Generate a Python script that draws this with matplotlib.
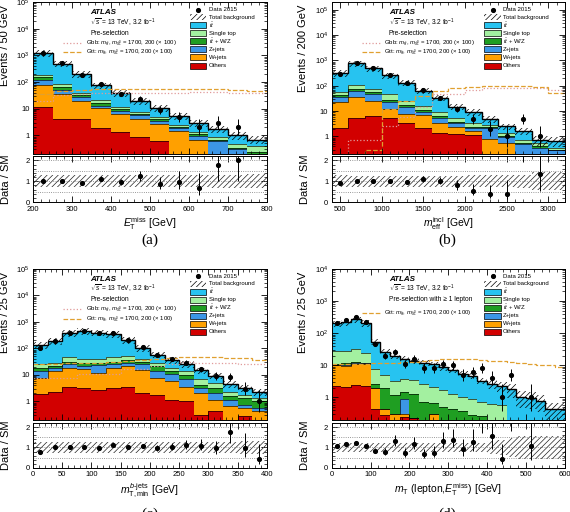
import matplotlib
matplotlib.use('Agg')
import matplotlib.pyplot as plt
import numpy as np
from matplotlib.patches import Rectangle
from matplotlib.lines import Line2D
from matplotlib.ticker import LogLocator, FuncFormatter, MultipleLocator, NullFormatter

plt.rcParams['font.family'] = ['Liberation Sans', 'DejaVu Sans']
plt.rcParams['mathtext.fontset'] = 'custom'
plt.rcParams['mathtext.rm'] = 'Liberation Sans'
plt.rcParams['mathtext.it'] = 'Liberation Sans:italic'
plt.rcParams['mathtext.bf'] = 'Liberation Sans:bold'
plt.rcParams['hatch.linewidth'] = 0.5

# process colours
C_TT = '#27c3f0'
C_ST = '#a3f0a0'
C_TTV = '#1f9e22'
C_Z = '#3c96e6'
C_W = '#ffa000'
C_OTH = '#d20000'
C_GBB = '#e09a9a'
C_GTT = '#e0a030'

# ---------------- (a) ETmiss ----------------
a_edges = [200, 250, 300, 350, 400, 450, 500, 550, 600, 650, 700, 750, 800]
a_others = [11.5, 4.2, 4.2, 1.9, 1.4, 0.87, 0.6, 0, 0, 0, 0, 0]
a_wjets = [63.5, 32.8, 15.8, 8.7, 5.1, 3.3, 2.1, 1.5, 0.65, 0, 0, 0]
a_zjets = [40, 15, 7, 2.4, 1.5, 1.5, 0.9, 0.4, 0.3, 0.6, 0.3, 0.1]
a_ttv = [35, 13, 5, 3, 1.5, 0.9, 0.5, 0.2, 0.2, 0.1, 0.05, 0.15]
a_single = [28, 22, 7, 4.6, 2.5, 1.3, 0.7, 0.3, 0.25, 0.17, 0.14, 0.16]
a_ttbar = [1082, 403, 166, 54.4, 27, 11.6, 5.8, 2.8, 1.5, 0.83, 0.51, 0.28]
a_data = [1260, 500, 185, 84, 37, 24, 9, 5, 2, 3, 2, 0]
a_unc = [0.28, 0.28, 0.28, 0.28, 0.28, 0.28, 0.28, 0.28, 0.28, 0.30, 0.32, 0.33]
a_gbb = [19, 34, 36, 38, 39, 40, 40, 40, 41, 41, 40, 38]
a_gtt = [36, 48, 52, 54, 56, 56, 56, 55, 54, 53, 52, 46]

# ---------------- (b) meff ----------------
b_edges = [400, 600, 800, 1000, 1200, 1400, 1600, 1800, 2000, 2200, 2400, 2600, 2800, 3000, 3200]
b_others = [2.1, 5.5, 6.5, 5.3, 3.5, 2.2, 1.4, 1.3, 1.1, 0, 0, 0, 0, 0]
b_wjets = [19.9, 29.5, 19.5, 6.7, 4.4, 4.6, 1.9, 1.0, 0.6, 0.8, 0.56, 0, 0, 0]
b_zjets = [14, 28, 21, 10, 6.1, 2.5, 1.8, 1.0, 0.4, 1.4, 0.37, 0.5, 0.35, 0.28]
b_ttv = [7, 10, 7, 5, 2.6, 1.3, 1.2, 0.5, 0.3, 0.1, 0.07, 0.06, 0.05, 0.02]
b_single = [11, 30, 19, 20, 9.4, 5.9, 2.8, 1.3, 0.9, 0.5, 0.35, 0.19, 0.15, 0.06]
b_ttbar = [262, 667, 417, 210, 104, 45.5, 23.9, 9.9, 5.7, 2.0, 1.15, 0.9, 0.19, 0.28]
b_data = [290, 785, 490, 257, 126, 69, 34, 12, 5, 2, 1, 5, 1, 0]
b_unc = [0.28, 0.27, 0.27, 0.27, 0.27, 0.27, 0.27, 0.27, 0.28, 0.28, 0.28, 0.30, 0.43, 0.43]
b_gbb = [0.1, 0.74, 0.74, 2.5, 6, 15, 47, 47, 66, 78, 82, 82, 80, 66]
b_gtt = [0.05, 0.1, 0.3, 12, 26, 40, 62, 80, 92, 95, 95, 95, 90, 50]

# ---------------- (c) mT,min b-jets ----------------
c_edges = [0, 25, 50, 75, 100, 125, 150, 175, 200, 225, 250, 275, 300, 325, 350, 375, 400]
c_others = [1.9, 2.2, 3.5, 3.2, 2.6, 3.2, 3.5, 2.1, 1.8, 1.15, 1.0, 0.31, 0.42, 0, 0.29, 0]
c_wjets = [5.9, 11.6, 15.1, 12.8, 9.4, 15.4, 17.5, 12.9, 6.0, 4.65, 2.5, 1.69, 0.73, 0.65, 0.26, 0.42]
c_zjets = [6.0, 3.7, 6.4, 5.0, 11, 6.4, 8, 10, 6.0, 4.6, 3.6, 1.2, 0.95, 0.5, 0.2, 0.13]
c_ttv = [4.8, 3.5, 5, 8, 5, 5, 7, 5, 7.2, 3.4, 2.4, 1.1, 1.1, 0.5, 0.55, 0.45]
c_single = [6.4, 8, 15, 10, 12, 15, 15, 10, 8, 4.8, 4.3, 2.4, 1.8, 0.55, 0.5, 0.3]
c_ttbar = [105, 156, 335, 406, 350, 310, 149, 63, 29, 18.4, 12.2, 7.9, 4.4, 2.4, 1.3, 0.9]
c_data = [104, 189, 380, 454, 382, 390, 204, 111, 56, 38, 29, 16, 9, 8, 3, 1]
c_unc = [0.28, 0.28, 0.28, 0.28, 0.28, 0.28, 0.28, 0.28, 0.28, 0.28, 0.28, 0.28, 0.29, 0.29, 0.30, 0.30]
c_gbb = [7.5, 7.5, 7.5, 11, 11, 11, 17, 17, 22, 26, 30, 28, 28, 27, 26, 26]
c_gtt = [25, 26, 27, 27, 29, 31, 33, 36, 40, 45, 47, 47, 46, 45, 42, 36]

# ---------------- (d) mT(lepton, ETmiss) ----------------
d_edges = [0, 25, 50, 75, 100, 125, 150, 175, 200, 225, 250, 275, 300,
           325, 350, 375, 400, 425, 450, 475, 500, 525, 550, 575, 600]
d_others = [2.3, 2.1, 2.4, 2.3, 0.42, 0.29, 0, 0.25, 0.23, 0, 0, 0, 0, 0, 0, 0, 0, 0, 0, 0, 0, 0, 0, 0]
d_wjets = [7.7, 7.4, 8.6, 8.7, 1.48, 0.13, 0.3, 0.05, 0, 0, 0.3, 0, 0, 0, 0, 0, 0, 0, 0, 0, 0, 0, 0, 0]
d_zjets = [0.5, 0.5, 0.5, 0.5, 0.05, 0, 0, 0.57, 0, 0, 0, 0, 0, 0, 0, 0, 0, 0, 0, 0, 0, 0, 0, 0]
d_ttv = [0.5, 2.0, 1.0, 0.5, 0.75, 1.48, 0.85, 0.6, 1.07, 0.72, 0.38, 0.5, 0.42, 0.39, 0.29, 0.27, 0, 0, 0, 0, 0, 0, 0, 0]
d_single = [17, 16, 20.5, 12, 4.8, 3.0, 2.05, 2.33, 2.1, 1.98, 1.42, 1.15, 0.88, 0.63, 0.61, 0.45, 0.63, 0.56, 0, 0, 0, 0, 0, 0]
d_ttbar = [172, 187, 232, 181, 46.5, 21.1, 16.3, 11.6, 10.3, 9.4, 8.6, 6.85, 5.9, 4.48, 3.8, 2.58, 1.97, 1.64, 1.8, 1.05, 0.95, 0.77, 0.44, 0.44]
d_data = [210, 247, 320, 221, 46, 20, 26, 11, 16, 8, 8, 11, 10, 5, 6, 8, 4, 1, 5, 0, 1, 0, 0, 0]
d_unc = [0.22] * 16 + [0.3, 0.35, 0.45, 0.55, 0.55, 0.55, 0.55, 0.55]
d_gtt = [11, 11, 11, 11, 12, 12, 12, 12.5, 13, 14, 15, 15.5, 16, 16, 15.5, 15, 14, 13.5, 13, 12, 11, 10.5, 10, 9]

GBB_LABEL = r"Gbb: $m_{\tilde{g}}$, $m_{\tilde{\chi}^{0}_{1}}$ = 1700, 200 (× 100)"
GTT_LABEL = r"Gtt: $m_{\tilde{g}}$, $m_{\tilde{\chi}^{0}_{1}}$ = 1700, 200 (× 100)"


def log_fmt(v, pos):
    if v <= 0:
        return ''
    e = int(round(np.log10(v)))
    if abs(np.log10(v) - e) > 1e-6:
        return ''
    if e == 0:
        return '1'
    if e == 1:
        return '10'
    return r'$10^{%d}$' % e


def poisson_err(n):
    n = np.asarray(n, float)
    s = np.sqrt(n + 0.25)
    return s - 0.5, s + 0.5


def style_axes(ax, xmaj, xmin):
    ax.tick_params(which='both', direction='in', top=True, right=True, labelsize=5.5, pad=2.5)
    ax.tick_params(which='major', length=4, width=0.6)
    ax.tick_params(which='minor', length=2, width=0.5)
    ax.xaxis.set_major_locator(MultipleLocator(xmaj))
    ax.xaxis.set_minor_locator(MultipleLocator(xmin))
    for s in ax.spines.values():
        s.set_linewidth(0.7)


def draw_panel(rect_main, rect_ratio, edges, layers, data, unc, signals,
               ylim, xlabel, ylabel, xmaj, xmin, selection, leg_x, sig_rows, sel_y):
    edges = np.array(edges, float)
    centers = 0.5 * (edges[1:] + edges[:-1])
    ax = fig.add_axes(rect_main)
    axr = fig.add_axes(rect_ratio)

    # stacked backgrounds, bottom first
    base = np.full(len(centers), 1e-4)
    for vals, col in layers:
        top = base + np.array(vals, float)
        ax.stairs(top, edges, baseline=base, fill=True, color=col, lw=0)
        ax.stairs(top, edges, baseline=None, color='black', lw=0.45)
        base = top
    total = base
    ax.stairs(total, edges, baseline=None, color='black', lw=1.0)

    unc = np.array(unc, float)
    lo = np.append(total * (1 - unc), total[-1] * (1 - unc[-1]))
    hi = np.append(total * (1 + unc), total[-1] * (1 + unc[-1]))
    ax.fill_between(edges, lo, hi, step='post', facecolor='none', edgecolor='black',
                    hatch='//////', lw=0)

    for vals, ls, col in signals:
        ax.stairs(vals, edges, baseline=None, color=col, ls=ls, lw=0.9)

    data = np.array(data, float)
    m = data > 0
    dn, up = poisson_err(data)
    ax.errorbar(centers[m], data[m], yerr=[dn[m], up[m]], fmt='o', ms=2.7, color='black',
                elinewidth=0.7, capsize=0)

    ax.set_yscale('log')
    ax.set_xlim(edges[0], edges[-1])
    ax.set_ylim(*ylim)
    style_axes(ax, xmaj, xmin)
    ax.yaxis.set_major_locator(LogLocator(base=10))
    ax.yaxis.set_minor_locator(LogLocator(base=10, subs=np.arange(2, 10), numticks=20))
    ax.yaxis.set_major_formatter(FuncFormatter(log_fmt))
    ax.yaxis.set_minor_formatter(NullFormatter())
    ax.tick_params(labelbottom=False)
    ax.set_ylabel(ylabel, fontsize=8, loc='top')
    ax.yaxis.set_label_coords(-0.1, 0.98)

    # text block
    ax.text(0.245, 0.93, 'ATLAS', transform=ax.transAxes, fontsize=5.8, weight='bold',
            style='italic', va='center')
    ax.text(0.245, 0.865, r'$\sqrt{s}$ = 13 TeV, 3.2 fb$^{-1}$', transform=ax.transAxes,
            fontsize=4.8, va='center')
    ax.text(0.245, sel_y, selection, transform=ax.transAxes, fontsize=4.8, va='center')
    for (vals, ls, col), (label, y) in zip(signals, sig_rows):
        ax.add_line(Line2D([0.13, 0.205], [y, y], transform=ax.transAxes, color=col, ls=ls, lw=0.9))
        ax.text(0.225, y, label, transform=ax.transAxes, fontsize=4.3, va='center')

    # background legend
    bx0, bx1, tx = leg_x
    entries = [('data', 'Data 2015'), ('band', 'Total background'),
               (C_TT, r'$t\bar{t}$'), (C_ST, 'Single top'), (C_TTV, r'$t\bar{t}$ + W/Z'),
               (C_Z, 'Z+jets'), (C_W, 'W+jets'), (C_OTH, 'Others')]
    rows = [0.95, 0.90, 0.848, 0.795, 0.742, 0.69, 0.636, 0.582]
    h = 0.04
    for (kind, label), y in zip(entries, rows):
        if kind == 'data':
            ax.plot([(bx0 + bx1) / 2], [y], 'o', ms=2.7, color='black', transform=ax.transAxes)
        elif kind == 'band':
            ax.add_patch(Rectangle((bx0, y - h / 2), bx1 - bx0, h, transform=ax.transAxes,
                                   facecolor='none', edgecolor='black', hatch='//////', lw=0))
        else:
            ax.add_patch(Rectangle((bx0, y - h / 2), bx1 - bx0, h, transform=ax.transAxes,
                                   facecolor=kind, edgecolor='black', lw=0.5))
        ax.text(tx, y, label, transform=ax.transAxes, fontsize=4.3, va='center')

    # ratio panel
    lo_r = np.append(1 - unc, 1 - unc[-1])
    hi_r = np.append(1 + unc, 1 + unc[-1])
    axr.fill_between(edges, lo_r, hi_r, step='post', facecolor='none', edgecolor='#222222',
                     hatch='//////', lw=0)
    for v in (0.5, 1.0, 1.5, 2.0):
        axr.axhline(v, color='#777777', ls=':', lw=0.6)
    ratio = data / total
    axr.errorbar(centers[m], ratio[m], yerr=[dn[m] / total[m], up[m] / total[m]], fmt='o',
                 ms=2.7, color='black', elinewidth=0.7, capsize=0)
    axr.set_xlim(edges[0], edges[-1])
    axr.set_ylim(0, 2.2)
    style_axes(axr, xmaj, xmin)
    axr.yaxis.set_major_locator(MultipleLocator(1))
    axr.yaxis.set_minor_locator(MultipleLocator(0.2))
    axr.set_ylabel('Data / SM', fontsize=8)
    axr.yaxis.set_label_coords(-0.094, 0.5)
    axr.set_xlabel(xlabel, fontsize=7.5, labelpad=2)
    return ax, axr


fig = plt.figure(figsize=(5.7, 5.12), dpi=100)

leg_ac = (0.67, 0.74, 0.752)
leg_bd = (0.655, 0.725, 0.735)
sig2 = [(GBB_LABEL, 0.733), (GTT_LABEL, 0.67)]

draw_panel([0.058, 0.699, 0.41, 0.297], [0.058, 0.605, 0.41, 0.09], a_edges,
           [(a_others, C_OTH), (a_wjets, C_W), (a_zjets, C_Z), (a_ttv, C_TTV),
            (a_single, C_ST), (a_ttbar, C_TT)],
           a_data, a_unc, [(a_gbb, ':', C_GBB), (a_gtt, '--', C_GTT)],
           (0.2, 1e5), r'$E_{\mathrm{T}}^{\mathrm{miss}}$ [GeV]', 'Events / 50 GeV',
           100, 20, 'Pre-selection', leg_ac, sig2, 0.795)

draw_panel([0.582, 0.699, 0.409, 0.297], [0.582, 0.605, 0.409, 0.09], b_edges,
           [(b_others, C_OTH), (b_wjets, C_W), (b_zjets, C_Z), (b_ttv, C_TTV),
            (b_single, C_ST), (b_ttbar, C_TT)],
           b_data, b_unc, [(b_gbb, ':', C_GBB), (b_gtt, '--', C_GTT)],
           (0.2, 2e5), r'$m_{\mathrm{eff}}^{\mathrm{incl}}$ [GeV]', 'Events / 200 GeV',
           500, 100, 'Pre-selection', leg_bd, sig2, 0.795)

draw_panel([0.058, 0.180, 0.41, 0.295], [0.058, 0.086, 0.41, 0.088], c_edges,
           [(c_others, C_OTH), (c_wjets, C_W), (c_zjets, C_Z), (c_ttv, C_TTV),
            (c_single, C_ST), (c_ttbar, C_TT)],
           c_data, c_unc, [(c_gbb, ':', C_GBB), (c_gtt, '--', C_GTT)],
           (0.2, 1e5), r'$m_{\mathrm{T,min}}^{b\mathrm{\text{-}jets}}$ [GeV]', 'Events / 25 GeV',
           50, 10, 'Pre-selection', leg_ac, sig2, 0.795)

draw_panel([0.582, 0.180, 0.409, 0.295], [0.582, 0.086, 0.409, 0.088], d_edges,
           [(d_others, C_OTH), (d_wjets, C_W), (d_zjets, C_Z), (d_ttv, C_TTV),
            (d_single, C_ST), (d_ttbar, C_TT)],
           d_data, d_unc, [(d_gtt, '--', C_GTT)],
           (0.2, 1e4), r'$m_{\mathrm{T}}$ (lepton,$E_{\mathrm{T}}^{\mathrm{miss}}$) [GeV]',
           'Events / 25 GeV', 100, 20, 'Pre-selection with ≥ 1 lepton', leg_bd,
           [(GTT_LABEL, 0.71)], 0.80)

for x, y, lab in [(0.263, 0.531, '(a)'), (0.784, 0.531, '(b)'),
                  (0.263, -0.004, '(c)'), (0.784, -0.004, '(d)')]:
    fig.text(x, y, lab, ha='center', va='center', fontsize=11, family='Liberation Serif')

fig.savefig('out.png', dpi=100)
